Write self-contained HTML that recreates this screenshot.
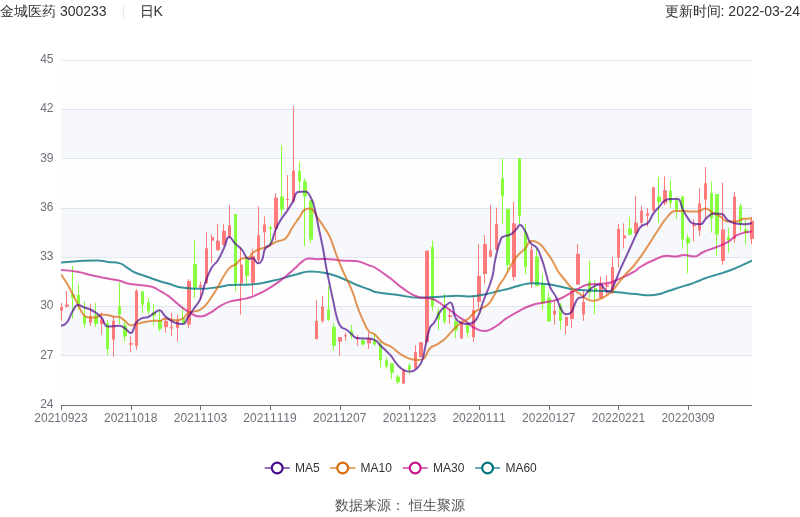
<!DOCTYPE html>
<html><head><meta charset="utf-8">
<style>
html,body{margin:0;padding:0;background:#fff;}
#wrap{position:absolute;left:0;top:0;width:800px;height:517px;will-change:transform;}
body{width:800px;height:517px;position:relative;overflow:hidden;font-family:"Liberation Sans",sans-serif;font-kerning:none;}
.ax{font-family:"Liberation Sans",sans-serif;font-size:12px;fill:#6E7079;font-kerning:none;}
.lg{font-family:"Liberation Sans",sans-serif;font-size:12px;fill:#333;font-kerning:none;}
#hdr{position:absolute;left:0;top:0;height:22px;width:800px;font-size:14px;color:#333;line-height:22px;}
#hl{position:absolute;left:0;top:0;white-space:nowrap;}
#sep{position:absolute;left:123px;top:5px;width:1px;height:13px;background:#e8e8e8;}
#k{position:absolute;left:139.6px;top:0;}
#hr{position:absolute;right:0;top:0;white-space:nowrap;}
#ft{position:absolute;left:0;width:800px;top:495px;text-align:center;font-size:14px;color:#555;line-height:20px;}
svg{position:absolute;left:0;top:0;}
</style></head><body>
<div id="wrap"><div id="hdr"><span id="hl">金城医药 300233</span><span id="sep"></span><span id="k">日K</span><span id="hr">更新时间: 2022-03-24</span></div>
<svg width="800" height="517" viewBox="0 0 800 517">
<defs><clipPath id="cp"><rect x="60" y="0" width="696" height="517"/></clipPath><clipPath id="cl"><rect x="61" y="0" width="691" height="517"/></clipPath></defs>
<rect x="61" y="355.71" width="691" height="49.29" fill="rgba(250,250,250,0.2)"/>
<rect x="61" y="306.43" width="691" height="49.29" fill="rgba(210,219,238,0.2)"/>
<rect x="61" y="257.14" width="691" height="49.29" fill="rgba(250,250,250,0.2)"/>
<rect x="61" y="207.86" width="691" height="49.29" fill="rgba(210,219,238,0.2)"/>
<rect x="61" y="158.57" width="691" height="49.29" fill="rgba(250,250,250,0.2)"/>
<rect x="61" y="109.29" width="691" height="49.29" fill="rgba(210,219,238,0.2)"/>
<rect x="61" y="60.00" width="691" height="49.29" fill="rgba(250,250,250,0.2)"/>
<line x1="61" y1="355.5" x2="752" y2="355.5" stroke="#E0E6F1" stroke-width="1"/>
<line x1="61" y1="306.5" x2="752" y2="306.5" stroke="#E0E6F1" stroke-width="1"/>
<line x1="61" y1="257.5" x2="752" y2="257.5" stroke="#E0E6F1" stroke-width="1"/>
<line x1="61" y1="208.5" x2="752" y2="208.5" stroke="#E0E6F1" stroke-width="1"/>
<line x1="61" y1="158.5" x2="752" y2="158.5" stroke="#E0E6F1" stroke-width="1"/>
<line x1="61" y1="109.5" x2="752" y2="109.5" stroke="#E0E6F1" stroke-width="1"/>
<line x1="61" y1="60.5" x2="752" y2="60.5" stroke="#E0E6F1" stroke-width="1"/>
<text x="53.5" y="404.0" text-anchor="end" dominant-baseline="central" class="ax">24</text>
<text x="53.5" y="354.7" text-anchor="end" dominant-baseline="central" class="ax">27</text>
<text x="53.5" y="305.4" text-anchor="end" dominant-baseline="central" class="ax">30</text>
<text x="53.5" y="256.1" text-anchor="end" dominant-baseline="central" class="ax">33</text>
<text x="53.5" y="206.9" text-anchor="end" dominant-baseline="central" class="ax">36</text>
<text x="53.5" y="157.6" text-anchor="end" dominant-baseline="central" class="ax">39</text>
<text x="53.5" y="108.3" text-anchor="end" dominant-baseline="central" class="ax">42</text>
<text x="53.5" y="59.0" text-anchor="end" dominant-baseline="central" class="ax">45</text>
<g clip-path="url(#cp)">
<rect x="61" y="302.8" width="1" height="17.9" fill="#ff7b7b"/>
<rect x="60.0" y="306.9" width="3.0" height="3.8" fill="#ff7b7b"/>
<rect x="66" y="290.8" width="1" height="17.0" fill="#ff7b7b"/>
<rect x="65.0" y="304.5" width="4.0" height="2.0" fill="#ff7b7b"/>
<rect x="72" y="266.0" width="1" height="52.9" fill="#88ff3e"/>
<rect x="71.0" y="294.6" width="4.0" height="3.2" fill="#88ff3e"/>
<rect x="78" y="283.7" width="1" height="25.8" fill="#88ff3e"/>
<rect x="77.0" y="295.0" width="3.0" height="9.0" fill="#88ff3e"/>
<rect x="84" y="301.3" width="1" height="26.4" fill="#88ff3e"/>
<rect x="83.0" y="316.4" width="3.0" height="7.5" fill="#88ff3e"/>
<rect x="90" y="303.8" width="1" height="22.0" fill="#ff7b7b"/>
<rect x="89.0" y="316.4" width="3.0" height="6.2" fill="#ff7b7b"/>
<rect x="95" y="303.1" width="1" height="23.9" fill="#88ff3e"/>
<rect x="94.0" y="315.1" width="4.0" height="8.8" fill="#88ff3e"/>
<rect x="101" y="312.6" width="1" height="22.0" fill="#ff7b7b"/>
<rect x="100.0" y="319.5" width="4.0" height="4.4" fill="#ff7b7b"/>
<rect x="107" y="320.0" width="1" height="35.3" fill="#88ff3e"/>
<rect x="106.0" y="323.3" width="3.0" height="25.7" fill="#88ff3e"/>
<rect x="113" y="316.4" width="1" height="40.2" fill="#ff7b7b"/>
<rect x="112.0" y="320.8" width="3.0" height="18.8" fill="#ff7b7b"/>
<rect x="119" y="282.4" width="1" height="41.5" fill="#88ff3e"/>
<rect x="118.0" y="306.3" width="3.0" height="8.3" fill="#88ff3e"/>
<rect x="124" y="318.9" width="1" height="22.6" fill="#88ff3e"/>
<rect x="123.0" y="325.2" width="4.0" height="11.3" fill="#88ff3e"/>
<rect x="130" y="335.8" width="1" height="16.4" fill="#ff7b7b"/>
<rect x="129.0" y="343.1" width="4.0" height="1.6" fill="#ff7b7b"/>
<rect x="136" y="289.0" width="1" height="60.7" fill="#ff7b7b"/>
<rect x="135.0" y="290.8" width="3.0" height="55.1" fill="#ff7b7b"/>
<rect x="142" y="290.8" width="1" height="22.4" fill="#88ff3e"/>
<rect x="141.0" y="291.5" width="3.0" height="13.1" fill="#88ff3e"/>
<rect x="148" y="297.8" width="1" height="17.2" fill="#88ff3e"/>
<rect x="147.0" y="302.2" width="3.0" height="9.1" fill="#88ff3e"/>
<rect x="153" y="304.0" width="1" height="21.8" fill="#88ff3e"/>
<rect x="152.0" y="312.6" width="4.0" height="3.1" fill="#88ff3e"/>
<rect x="159" y="310.2" width="1" height="21.4" fill="#88ff3e"/>
<rect x="158.0" y="320.3" width="4.0" height="8.8" fill="#88ff3e"/>
<rect x="165" y="317.7" width="1" height="15.1" fill="#ff7b7b"/>
<rect x="164.0" y="320.9" width="4.0" height="6.3" fill="#ff7b7b"/>
<rect x="171" y="312.7" width="1" height="23.3" fill="#ff7b7b"/>
<rect x="170.0" y="326.8" width="3.0" height="1.6" fill="#ff7b7b"/>
<rect x="177" y="314.6" width="1" height="27.0" fill="#ff7b7b"/>
<rect x="176.0" y="320.9" width="3.0" height="6.9" fill="#ff7b7b"/>
<rect x="182" y="306.4" width="1" height="17.6" fill="#88ff3e"/>
<rect x="182.0" y="318.4" width="3.0" height="5.0" fill="#88ff3e"/>
<rect x="188" y="279.1" width="1" height="48.7" fill="#ff7b7b"/>
<rect x="187.0" y="281.0" width="4.0" height="43.7" fill="#ff7b7b"/>
<rect x="194" y="240.7" width="1" height="57.5" fill="#88ff3e"/>
<rect x="193.0" y="264.0" width="4.0" height="23.5" fill="#88ff3e"/>
<rect x="200" y="281.6" width="1" height="18.5" fill="#ff7b7b"/>
<rect x="199.0" y="285.0" width="3.0" height="2.5" fill="#ff7b7b"/>
<rect x="206" y="231.9" width="1" height="52.1" fill="#ff7b7b"/>
<rect x="205.0" y="248.3" width="3.0" height="34.7" fill="#ff7b7b"/>
<rect x="211" y="234.4" width="1" height="28.3" fill="#ff7b7b"/>
<rect x="211.0" y="237.0" width="3.0" height="3.7" fill="#ff7b7b"/>
<rect x="217" y="224.0" width="1" height="26.6" fill="#ff7b7b"/>
<rect x="216.0" y="240.7" width="4.0" height="9.5" fill="#ff7b7b"/>
<rect x="223" y="224.0" width="1" height="21.8" fill="#ff7b7b"/>
<rect x="222.0" y="230.8" width="4.0" height="13.8" fill="#ff7b7b"/>
<rect x="229" y="205.1" width="1" height="32.4" fill="#ff7b7b"/>
<rect x="228.0" y="225.3" width="3.0" height="11.5" fill="#ff7b7b"/>
<rect x="235" y="213.9" width="1" height="77.4" fill="#88ff3e"/>
<rect x="234.0" y="214.0" width="3.0" height="69.5" fill="#88ff3e"/>
<rect x="240" y="247.6" width="1" height="67.0" fill="#ff7b7b"/>
<rect x="240.0" y="264.6" width="3.0" height="18.7" fill="#ff7b7b"/>
<rect x="246" y="256.4" width="1" height="27.6" fill="#88ff3e"/>
<rect x="245.0" y="258.6" width="4.0" height="17.4" fill="#88ff3e"/>
<rect x="252" y="248.8" width="1" height="45.9" fill="#ff7b7b"/>
<rect x="251.0" y="255.8" width="4.0" height="27.0" fill="#ff7b7b"/>
<rect x="258" y="206.4" width="1" height="55.6" fill="#ff7b7b"/>
<rect x="257.0" y="235.3" width="3.0" height="24.9" fill="#ff7b7b"/>
<rect x="264" y="216.4" width="1" height="31.2" fill="#ff7b7b"/>
<rect x="263.0" y="224.6" width="3.0" height="7.6" fill="#ff7b7b"/>
<rect x="270" y="225.9" width="1" height="18.1" fill="#88ff3e"/>
<rect x="269.0" y="227.1" width="3.0" height="1.9" fill="#88ff3e"/>
<rect x="275" y="193.2" width="1" height="47.1" fill="#ff7b7b"/>
<rect x="274.0" y="197.6" width="4.0" height="31.4" fill="#ff7b7b"/>
<rect x="281" y="145.3" width="1" height="70.1" fill="#88ff3e"/>
<rect x="280.0" y="196.5" width="4.0" height="13.2" fill="#88ff3e"/>
<rect x="287" y="175.1" width="1" height="34.0" fill="#ff7b7b"/>
<rect x="286.0" y="199.0" width="3.0" height="1.0" fill="#ff7b7b"/>
<rect x="293" y="106.0" width="1" height="96.5" fill="#ff7b7b"/>
<rect x="292.0" y="170.7" width="3.0" height="30.8" fill="#ff7b7b"/>
<rect x="299" y="162.3" width="1" height="29.2" fill="#88ff3e"/>
<rect x="298.0" y="170.7" width="3.0" height="10.7" fill="#88ff3e"/>
<rect x="304" y="178.3" width="1" height="68.0" fill="#88ff3e"/>
<rect x="303.0" y="181.4" width="4.0" height="15.1" fill="#88ff3e"/>
<rect x="310" y="200.0" width="1" height="42.8" fill="#88ff3e"/>
<rect x="309.0" y="200.3" width="4.0" height="39.3" fill="#88ff3e"/>
<rect x="316" y="300.1" width="1" height="39.6" fill="#ff7b7b"/>
<rect x="315.0" y="320.9" width="3.0" height="18.2" fill="#ff7b7b"/>
<rect x="322" y="296.4" width="1" height="26.4" fill="#ff7b7b"/>
<rect x="321.0" y="306.4" width="3.0" height="14.5" fill="#ff7b7b"/>
<rect x="328" y="286.3" width="1" height="34.6" fill="#88ff3e"/>
<rect x="327.0" y="309.6" width="3.0" height="10.0" fill="#88ff3e"/>
<rect x="333" y="323.1" width="1" height="27.7" fill="#88ff3e"/>
<rect x="332.0" y="326.9" width="4.0" height="18.9" fill="#88ff3e"/>
<rect x="339" y="337.0" width="1" height="18.8" fill="#ff7b7b"/>
<rect x="338.0" y="337.2" width="4.0" height="4.4" fill="#ff7b7b"/>
<rect x="345" y="332.6" width="1" height="8.2" fill="#ff7b7b"/>
<rect x="344.0" y="335.1" width="3.0" height="1.3" fill="#ff7b7b"/>
<rect x="351" y="325.0" width="1" height="13.9" fill="#88ff3e"/>
<rect x="350.0" y="330.7" width="3.0" height="5.0" fill="#88ff3e"/>
<rect x="357" y="335.1" width="1" height="10.7" fill="#ff7b7b"/>
<rect x="356.0" y="338.2" width="3.0" height="1.3" fill="#ff7b7b"/>
<rect x="362" y="338.9" width="1" height="6.9" fill="#88ff3e"/>
<rect x="361.0" y="340.1" width="4.0" height="4.4" fill="#88ff3e"/>
<rect x="368" y="332.6" width="1" height="16.3" fill="#ff7b7b"/>
<rect x="367.0" y="338.2" width="4.0" height="5.1" fill="#ff7b7b"/>
<rect x="374" y="333.2" width="1" height="12.6" fill="#88ff3e"/>
<rect x="373.0" y="340.1" width="3.0" height="4.4" fill="#88ff3e"/>
<rect x="380" y="340.8" width="1" height="27.0" fill="#88ff3e"/>
<rect x="379.0" y="344.5" width="3.0" height="15.8" fill="#88ff3e"/>
<rect x="386" y="357.1" width="1" height="11.3" fill="#88ff3e"/>
<rect x="385.0" y="360.3" width="3.0" height="6.2" fill="#88ff3e"/>
<rect x="391" y="362.8" width="1" height="16.3" fill="#88ff3e"/>
<rect x="390.0" y="363.4" width="4.0" height="9.4" fill="#88ff3e"/>
<rect x="397" y="374.7" width="1" height="9.5" fill="#88ff3e"/>
<rect x="396.0" y="376.6" width="4.0" height="5.7" fill="#88ff3e"/>
<rect x="403" y="369.1" width="1" height="15.1" fill="#ff7b7b"/>
<rect x="402.0" y="370.3" width="3.0" height="13.2" fill="#ff7b7b"/>
<rect x="409" y="362.8" width="1" height="11.9" fill="#88ff3e"/>
<rect x="408.0" y="365.3" width="3.0" height="4.4" fill="#88ff3e"/>
<rect x="415" y="345.2" width="1" height="23.4" fill="#ff7b7b"/>
<rect x="414.0" y="352.1" width="3.0" height="16.3" fill="#ff7b7b"/>
<rect x="420" y="342.0" width="1" height="15.7" fill="#ff7b7b"/>
<rect x="419.0" y="342.3" width="4.0" height="14.8" fill="#ff7b7b"/>
<rect x="426" y="250.7" width="1" height="92.3" fill="#ff7b7b"/>
<rect x="425.0" y="250.7" width="4.0" height="91.5" fill="#ff7b7b"/>
<rect x="432" y="240.7" width="1" height="70.1" fill="#88ff3e"/>
<rect x="431.0" y="247.0" width="3.0" height="60.0" fill="#88ff3e"/>
<rect x="438" y="308.2" width="1" height="22.1" fill="#88ff3e"/>
<rect x="437.0" y="311.4" width="3.0" height="8.2" fill="#88ff3e"/>
<rect x="444" y="293.5" width="1" height="30.5" fill="#88ff3e"/>
<rect x="443.0" y="308.2" width="3.0" height="13.2" fill="#88ff3e"/>
<rect x="449" y="308.9" width="1" height="15.1" fill="#ff7b7b"/>
<rect x="448.0" y="315.2" width="4.0" height="1.8" fill="#ff7b7b"/>
<rect x="455" y="318.9" width="1" height="19.5" fill="#88ff3e"/>
<rect x="454.0" y="321.4" width="4.0" height="8.9" fill="#88ff3e"/>
<rect x="461" y="320.8" width="1" height="18.3" fill="#ff7b7b"/>
<rect x="460.0" y="321.4" width="3.0" height="17.0" fill="#ff7b7b"/>
<rect x="467" y="321.4" width="1" height="15.8" fill="#88ff3e"/>
<rect x="466.0" y="324.6" width="3.0" height="8.2" fill="#88ff3e"/>
<rect x="473" y="295.0" width="1" height="47.2" fill="#ff7b7b"/>
<rect x="472.0" y="310.1" width="3.0" height="27.1" fill="#ff7b7b"/>
<rect x="478" y="243.8" width="1" height="63.8" fill="#ff7b7b"/>
<rect x="477.0" y="275.9" width="4.0" height="26.1" fill="#ff7b7b"/>
<rect x="484" y="235.0" width="1" height="48.9" fill="#ff7b7b"/>
<rect x="483.0" y="244.1" width="4.0" height="29.8" fill="#ff7b7b"/>
<rect x="490" y="205.1" width="1" height="52.1" fill="#ff7b7b"/>
<rect x="489.0" y="250.3" width="3.0" height="6.3" fill="#ff7b7b"/>
<rect x="496" y="207.6" width="1" height="42.9" fill="#ff7b7b"/>
<rect x="495.0" y="223.9" width="3.0" height="25.8" fill="#ff7b7b"/>
<rect x="502" y="158.6" width="1" height="65.3" fill="#88ff3e"/>
<rect x="501.0" y="178.4" width="3.0" height="17.6" fill="#88ff3e"/>
<rect x="507" y="208.2" width="1" height="63.8" fill="#88ff3e"/>
<rect x="506.0" y="209.0" width="4.0" height="56.0" fill="#88ff3e"/>
<rect x="513" y="201.9" width="1" height="78.9" fill="#ff7b7b"/>
<rect x="512.0" y="223.3" width="4.0" height="53.7" fill="#ff7b7b"/>
<rect x="519" y="158.2" width="1" height="66.4" fill="#88ff3e"/>
<rect x="518.0" y="158.2" width="3.0" height="57.6" fill="#88ff3e"/>
<rect x="525" y="223.9" width="1" height="50.6" fill="#88ff3e"/>
<rect x="524.0" y="231.5" width="3.0" height="35.5" fill="#88ff3e"/>
<rect x="531" y="245.3" width="1" height="42.4" fill="#ff7b7b"/>
<rect x="530.0" y="249.7" width="3.0" height="33.0" fill="#ff7b7b"/>
<rect x="536" y="247.8" width="1" height="38.6" fill="#88ff3e"/>
<rect x="535.0" y="256.6" width="4.0" height="29.2" fill="#88ff3e"/>
<rect x="542" y="273.9" width="1" height="35.8" fill="#88ff3e"/>
<rect x="541.0" y="283.9" width="4.0" height="19.5" fill="#88ff3e"/>
<rect x="548" y="292.7" width="1" height="28.9" fill="#88ff3e"/>
<rect x="547.0" y="297.8" width="4.0" height="23.6" fill="#88ff3e"/>
<rect x="554" y="301.3" width="1" height="23.3" fill="#ff7b7b"/>
<rect x="553.0" y="310.8" width="3.0" height="3.7" fill="#ff7b7b"/>
<rect x="560" y="303.2" width="1" height="26.4" fill="#88ff3e"/>
<rect x="559.0" y="305.1" width="3.0" height="15.7" fill="#88ff3e"/>
<rect x="565" y="316.4" width="1" height="17.6" fill="#ff7b7b"/>
<rect x="565.0" y="317.0" width="3.0" height="8.8" fill="#ff7b7b"/>
<rect x="571" y="290.3" width="1" height="37.4" fill="#ff7b7b"/>
<rect x="570.0" y="290.3" width="4.0" height="28.6" fill="#ff7b7b"/>
<rect x="577" y="244.1" width="1" height="40.7" fill="#ff7b7b"/>
<rect x="576.0" y="253.8" width="4.0" height="30.8" fill="#ff7b7b"/>
<rect x="583" y="290.9" width="1" height="29.9" fill="#ff7b7b"/>
<rect x="582.0" y="302.0" width="3.0" height="12.5" fill="#ff7b7b"/>
<rect x="589" y="260.7" width="1" height="37.8" fill="#88ff3e"/>
<rect x="588.0" y="281.5" width="3.0" height="11.5" fill="#88ff3e"/>
<rect x="594" y="280.2" width="1" height="34.3" fill="#88ff3e"/>
<rect x="594.0" y="287.8" width="3.0" height="3.7" fill="#88ff3e"/>
<rect x="600" y="276.4" width="1" height="22.1" fill="#ff7b7b"/>
<rect x="599.0" y="284.6" width="4.0" height="13.2" fill="#ff7b7b"/>
<rect x="606" y="275.2" width="1" height="19.5" fill="#ff7b7b"/>
<rect x="605.0" y="284.6" width="4.0" height="1.9" fill="#ff7b7b"/>
<rect x="612" y="257.0" width="1" height="37.0" fill="#ff7b7b"/>
<rect x="611.0" y="267.0" width="3.0" height="24.5" fill="#ff7b7b"/>
<rect x="618" y="224.0" width="1" height="43.6" fill="#ff7b7b"/>
<rect x="617.0" y="229.0" width="3.0" height="28.6" fill="#ff7b7b"/>
<rect x="623" y="223.4" width="1" height="25.1" fill="#ff7b7b"/>
<rect x="623.0" y="235.3" width="3.0" height="3.2" fill="#ff7b7b"/>
<rect x="629" y="217.1" width="1" height="18.2" fill="#88ff3e"/>
<rect x="628.0" y="228.4" width="4.0" height="6.3" fill="#88ff3e"/>
<rect x="635" y="195.7" width="1" height="39.6" fill="#ff7b7b"/>
<rect x="634.0" y="222.7" width="4.0" height="10.7" fill="#ff7b7b"/>
<rect x="641" y="205.8" width="1" height="19.5" fill="#ff7b7b"/>
<rect x="640.0" y="210.8" width="3.0" height="11.9" fill="#ff7b7b"/>
<rect x="647" y="208.3" width="1" height="18.2" fill="#ff7b7b"/>
<rect x="646.0" y="213.3" width="3.0" height="2.5" fill="#ff7b7b"/>
<rect x="653" y="186.9" width="1" height="24.5" fill="#ff7b7b"/>
<rect x="652.0" y="187.3" width="3.0" height="23.3" fill="#ff7b7b"/>
<rect x="658" y="177.0" width="1" height="45.9" fill="#88ff3e"/>
<rect x="657.0" y="196.5" width="4.0" height="5.6" fill="#88ff3e"/>
<rect x="664" y="176.4" width="1" height="28.9" fill="#ff7b7b"/>
<rect x="663.0" y="190.2" width="4.0" height="13.2" fill="#ff7b7b"/>
<rect x="670" y="180.1" width="1" height="27.7" fill="#88ff3e"/>
<rect x="669.0" y="190.8" width="3.0" height="12.0" fill="#88ff3e"/>
<rect x="676" y="196.5" width="1" height="22.6" fill="#88ff3e"/>
<rect x="675.0" y="200.3" width="3.0" height="9.4" fill="#88ff3e"/>
<rect x="682" y="195.8" width="1" height="52.6" fill="#88ff3e"/>
<rect x="681.0" y="196.5" width="3.0" height="43.1" fill="#88ff3e"/>
<rect x="687" y="234.5" width="1" height="39.0" fill="#88ff3e"/>
<rect x="686.0" y="237.7" width="4.0" height="5.6" fill="#88ff3e"/>
<rect x="693" y="219.4" width="1" height="22.0" fill="#ff7b7b"/>
<rect x="692.0" y="225.1" width="4.0" height="1.3" fill="#ff7b7b"/>
<rect x="699" y="188.3" width="1" height="47.5" fill="#ff7b7b"/>
<rect x="698.0" y="203.4" width="3.0" height="27.4" fill="#ff7b7b"/>
<rect x="705" y="166.9" width="1" height="51.0" fill="#ff7b7b"/>
<rect x="704.0" y="183.3" width="3.0" height="16.3" fill="#ff7b7b"/>
<rect x="711" y="181.4" width="1" height="51.2" fill="#88ff3e"/>
<rect x="710.0" y="193.3" width="3.0" height="25.2" fill="#88ff3e"/>
<rect x="716" y="194.0" width="1" height="61.9" fill="#88ff3e"/>
<rect x="715.0" y="194.0" width="4.0" height="40.5" fill="#88ff3e"/>
<rect x="722" y="182.6" width="1" height="82.1" fill="#ff7b7b"/>
<rect x="721.0" y="229.5" width="4.0" height="31.4" fill="#ff7b7b"/>
<rect x="728" y="227.6" width="1" height="25.2" fill="#88ff3e"/>
<rect x="727.0" y="237.0" width="3.0" height="3.2" fill="#88ff3e"/>
<rect x="734" y="192.1" width="1" height="50.6" fill="#ff7b7b"/>
<rect x="733.0" y="196.5" width="3.0" height="42.4" fill="#ff7b7b"/>
<rect x="740" y="203.4" width="1" height="27.4" fill="#88ff3e"/>
<rect x="739.0" y="205.9" width="3.0" height="17.9" fill="#88ff3e"/>
<rect x="745" y="219.7" width="1" height="24.9" fill="#88ff3e"/>
<rect x="744.0" y="229.5" width="4.0" height="3.8" fill="#88ff3e"/>
<rect x="751" y="216.9" width="1" height="27.1" fill="#ff7b7b"/>
<rect x="750.0" y="220.7" width="4.0" height="18.2" fill="#ff7b7b"/>
</g>
<g clip-path="url(#cl)">
<path d="M61.00,262.60 C61.00,262.60 70.49,261.58 80.00,261.00 C88.64,260.48 88.68,260.40 97.30,260.40 C102.58,260.40 102.54,261.20 107.80,261.90 C113.84,262.70 114.19,261.90 119.90,263.40 C124.04,264.49 123.72,265.62 127.50,267.90 C131.27,270.17 131.02,270.68 135.00,272.50 C140.07,274.83 140.30,274.34 145.60,276.20 C153.15,278.84 153.10,279.02 160.70,281.50 C164.75,282.82 164.81,282.61 168.90,283.80 C175.16,285.61 175.00,286.61 181.40,287.50 C190.70,288.80 190.86,288.80 200.30,288.80 C209.76,288.80 209.78,288.09 219.20,286.90 C224.88,286.19 224.80,285.29 230.50,285.00 C240.20,284.50 240.32,285.00 250.00,284.50 C261.37,283.91 261.42,283.22 272.60,280.80 C284.07,278.32 283.90,277.54 295.30,274.70 C302.80,272.84 302.78,271.40 310.40,271.40 C317.88,271.40 318.11,271.40 325.50,272.90 C333.21,274.47 333.22,274.86 340.60,277.70 C348.32,280.66 348.05,281.35 355.70,284.50 C362.75,287.40 362.90,287.03 370.00,289.80 C372.65,290.83 372.42,291.59 375.20,292.10 C385.72,294.04 385.91,293.32 396.60,294.70 C407.91,296.17 407.86,297.80 419.20,297.80 C429.56,297.80 429.60,297.38 440.00,296.80 C448.30,296.33 448.30,295.70 456.60,295.70 C462.25,295.70 462.26,296.50 467.90,296.50 C474.86,296.50 474.93,296.22 481.80,295.00 C490.98,293.37 490.90,292.91 500.00,290.80 C503.85,289.91 503.89,290.05 507.70,289.00 C514.04,287.25 513.90,286.65 520.30,285.20 C526.50,283.80 526.57,283.30 532.90,283.30 C539.17,283.30 539.25,283.30 545.50,283.90 C552.80,284.60 552.76,285.21 560.00,286.60 C567.56,288.06 567.48,288.79 575.10,289.60 C582.58,290.40 582.65,290.02 590.20,290.40 C597.75,290.77 597.76,290.55 605.30,291.10 C612.86,291.65 612.85,291.85 620.40,292.60 C627.95,293.35 627.94,293.45 635.50,294.10 C643.04,294.75 643.06,295.20 650.60,295.20 C655.11,295.20 655.16,294.91 659.60,294.10 C661.16,293.81 661.09,293.52 662.60,293.00 C666.29,291.72 666.29,291.71 670.00,290.50 C677.64,288.01 677.63,287.98 685.30,285.60 C687.63,284.88 687.71,285.12 690.00,284.30 C695.26,282.42 695.21,282.26 700.40,280.20 C702.76,279.26 702.70,279.12 705.10,278.30 C710.25,276.52 710.29,276.61 715.50,275.00 C717.74,274.31 717.76,274.39 720.00,273.70 C723.76,272.54 723.82,272.69 727.50,271.30 C733.62,268.99 733.60,268.91 739.60,266.30 C745.80,263.61 751.90,260.70 751.90,260.70" fill="none" stroke="#00737d" stroke-opacity="0.78" stroke-width="2" stroke-linejoin="round" stroke-linecap="round"/>
<path d="M61.00,269.90 C61.00,269.90 69.40,270.25 77.60,271.70 C85.25,273.05 85.11,273.79 92.70,275.50 C100.21,277.19 100.24,277.03 107.80,278.50 C113.84,279.68 113.94,279.31 119.90,280.80 C124.54,281.96 124.34,282.80 129.00,283.80 C134.14,284.90 134.26,284.30 139.50,285.00 C145.56,285.80 145.81,285.08 151.60,286.80 C156.41,288.23 156.27,288.84 160.70,291.30 C164.92,293.64 165.03,293.53 168.90,296.40 C173.53,299.83 173.15,300.34 177.70,303.90 C183.20,308.19 182.95,308.73 189.00,312.10 C194.25,315.03 194.64,316.50 200.30,316.50 C205.34,316.50 205.67,315.22 210.40,312.70 C215.72,309.87 215.13,308.76 220.40,305.80 C225.18,303.11 225.27,303.03 230.50,301.40 C235.37,299.88 235.57,300.53 240.60,299.50 C245.32,298.53 245.50,299.04 250.00,297.40 C257.75,294.59 257.86,294.58 265.10,290.60 C272.96,286.28 273.02,286.20 280.20,280.80 C288.12,274.85 287.82,274.42 295.30,267.90 C299.12,264.57 298.70,263.96 302.80,261.10 C305.50,259.21 305.71,258.40 308.90,258.40 C312.51,258.40 312.64,259.30 316.40,259.30 C320.94,259.30 320.96,258.90 325.50,258.90 C333.06,258.90 333.04,259.85 340.60,260.40 C348.14,260.95 348.33,260.40 355.70,261.10 C363.03,261.80 362.85,263.40 370.00,265.70 C372.00,266.35 372.22,265.90 374.00,267.00 C382.37,272.20 382.33,272.40 390.30,278.30 C396.78,283.10 396.17,284.00 402.90,288.40 C410.62,293.45 410.66,295.32 419.20,297.20 C424.21,298.30 424.99,297.20 430.00,298.30 C437.94,300.05 437.85,301.99 445.10,306.60 C451.15,310.44 450.77,311.01 456.60,315.20 C461.57,318.76 461.69,318.60 466.70,322.10 C471.14,325.20 470.71,326.07 475.50,328.40 C479.86,330.52 480.26,331.00 485.00,331.00 C487.81,331.00 488.00,330.60 490.60,329.30 C495.50,326.85 495.48,326.64 500.00,323.50 C502.18,321.99 501.78,321.44 504.00,320.00 C511.93,314.84 511.93,314.73 520.30,310.30 C526.38,307.08 526.38,306.80 532.90,304.70 C538.98,302.75 539.23,303.59 545.50,302.20 C552.78,300.59 553.13,301.44 560.00,298.70 C567.93,295.54 567.34,294.10 575.10,290.40 C582.44,286.90 582.37,285.05 590.20,284.30 C597.47,283.60 597.97,284.30 605.30,283.60 C613.07,282.86 613.05,281.42 620.40,278.30 C628.15,275.02 628.22,274.96 635.50,270.80 C638.02,269.36 637.49,268.55 640.00,267.10 C647.29,262.90 647.32,262.73 655.10,259.50 C660.92,257.08 661.04,255.80 667.20,255.80 C671.59,255.80 671.73,256.50 676.20,256.50 C680.03,256.50 679.98,255.00 683.80,255.00 C689.03,255.00 689.29,256.50 694.30,256.50 C699.09,256.50 698.73,253.98 703.40,252.00 C709.33,249.48 709.52,249.93 715.50,247.50 C721.57,245.03 721.83,245.43 727.50,242.20 C733.13,238.98 732.24,237.14 738.10,234.60 C744.44,231.84 751.90,231.60 751.90,231.60" fill="none" stroke="#c8148c" stroke-opacity="0.70" stroke-width="2" stroke-linejoin="round" stroke-linecap="round"/>
<path d="M61.00,274.50 C61.00,274.50 64.11,278.78 66.80,283.30 C69.91,288.53 69.76,288.62 72.60,294.00 C75.56,299.62 75.39,299.71 78.40,305.30 C81.19,310.46 80.40,311.51 84.20,315.50 C86.20,317.60 87.01,317.60 90.00,317.60 C92.76,317.60 93.03,317.60 95.70,317.60 C98.78,317.60 98.42,314.50 101.50,314.50 C104.37,314.50 104.59,314.52 107.60,315.00 C110.49,315.47 110.42,315.90 113.30,316.40 C116.17,316.90 116.45,316.40 119.10,317.00 C122.25,317.71 122.07,318.80 124.90,320.80 C127.87,322.90 127.51,325.20 130.70,325.20 C133.31,325.20 133.60,324.55 136.50,323.90 C139.40,323.25 139.39,323.23 142.30,322.60 C145.19,321.98 145.18,321.85 148.10,321.40 C150.98,320.95 150.99,320.80 153.90,320.80 C156.64,320.80 156.76,320.90 159.40,320.90 C162.56,320.90 162.36,318.40 165.50,318.40 C168.36,318.40 168.43,319.13 171.40,319.60 C174.38,320.08 174.47,320.30 177.40,320.30 C180.27,320.30 180.58,319.98 183.00,318.40 C186.38,316.18 185.58,314.60 189.00,312.70 C191.33,311.40 191.78,312.15 194.50,311.40 C197.43,310.60 197.74,311.11 200.30,309.60 C203.59,307.66 203.63,307.40 206.20,304.50 C209.48,300.80 209.23,300.54 212.00,296.40 C215.08,291.79 215.12,291.80 217.90,287.00 C221.22,281.25 220.66,280.90 224.20,275.30 C226.96,270.95 226.83,270.57 230.50,267.10 C232.48,265.22 233.28,266.25 235.50,264.60 C238.93,262.05 238.12,260.35 241.80,258.70 C245.37,257.10 246.86,258.70 250.00,257.10 C251.30,256.44 250.05,254.98 251.30,253.90 C254.45,251.18 254.84,251.24 258.80,249.50 C263.14,247.59 263.56,248.51 267.90,246.60 C271.86,244.86 271.50,244.07 275.40,242.20 C277.65,241.12 277.84,241.56 280.20,240.70 C282.89,239.71 283.65,240.55 285.50,238.50 C290.05,233.45 289.09,232.39 293.00,226.50 C295.99,221.99 296.18,222.12 299.30,217.70 C302.18,213.62 301.43,211.35 305.00,209.50 C306.93,208.50 307.90,208.50 310.30,208.50 C312.30,208.50 312.42,209.58 313.80,211.30 C316.07,214.13 315.60,214.51 317.60,217.60 C321.30,223.31 321.59,223.13 325.20,228.90 C327.89,233.18 328.17,233.09 330.20,237.70 C333.17,244.44 332.64,244.67 335.20,251.60 C337.69,258.32 337.56,258.38 340.30,265.00 C342.46,270.23 342.66,270.14 345.00,275.30 C348.91,283.94 349.32,283.79 352.80,292.60 C355.72,299.99 355.01,300.26 357.80,307.70 C360.66,315.36 360.59,315.43 364.10,322.80 C366.29,327.38 365.94,327.95 369.20,331.60 C370.99,333.60 372.05,332.36 374.20,334.10 C378.85,337.86 378.00,339.04 382.80,342.60 C386.70,345.49 387.49,344.34 391.60,347.00 C396.29,350.04 395.68,351.00 400.40,354.00 C405.13,357.00 405.23,357.51 410.50,359.00 C414.03,360.00 414.27,360.00 418.00,360.00 C420.57,360.00 421.36,360.00 423.10,359.00 C427.36,356.55 425.68,352.71 430.00,348.30 C432.98,345.26 434.03,346.48 437.70,344.10 C441.68,341.53 441.81,341.59 445.30,338.40 C449.36,334.69 448.90,334.20 452.80,330.30 C456.45,326.65 456.30,326.40 460.40,323.30 C463.85,320.70 464.51,321.57 467.90,318.90 C472.06,315.62 471.32,314.62 475.50,311.40 C478.27,309.27 478.71,309.91 481.80,308.20 C484.96,306.46 485.58,307.06 488.00,304.50 C491.83,300.46 491.41,299.91 494.30,295.00 C497.41,289.71 496.91,289.41 500.00,284.10 C501.86,280.91 502.28,281.16 504.20,278.00 C510.38,267.81 509.34,267.03 516.20,257.40 C519.89,252.23 520.96,253.09 525.30,248.40 C528.51,244.94 527.65,241.10 531.30,241.10 C533.70,241.10 534.89,241.10 537.40,242.30 C541.69,244.35 541.64,245.65 544.90,249.80 C549.94,256.20 549.75,256.43 554.00,263.40 C555.90,266.53 555.25,266.91 557.20,270.00 C559.85,274.21 560.05,274.12 563.20,278.00 C567.60,283.42 567.26,283.85 572.30,288.60 C575.81,291.90 576.36,291.26 580.30,294.10 C583.36,296.31 583.03,296.92 586.30,298.70 C589.08,300.22 589.29,300.70 592.40,300.70 C595.34,300.70 595.64,300.70 598.40,299.70 C604.44,297.51 604.42,296.70 610.00,293.10 C611.62,292.05 611.57,291.90 612.80,290.40 C618.27,283.75 617.82,283.36 623.40,276.80 C628.42,270.91 629.09,271.48 634.00,265.50 C639.64,258.63 639.50,258.47 644.50,251.10 C651.55,240.72 651.12,240.43 658.10,230.00 C662.67,223.18 662.17,222.63 667.60,216.60 C670.72,213.13 670.99,211.00 675.20,211.00 C678.54,211.00 678.95,211.00 682.70,211.00 C687.10,211.00 687.10,211.60 691.50,211.60 C694.65,211.60 694.79,211.60 697.80,211.60 C701.69,211.60 701.66,208.40 705.30,208.40 C709.21,208.40 709.04,210.71 712.90,212.80 C716.59,214.81 716.77,214.49 720.40,216.60 C724.32,218.89 723.86,221.60 728.00,221.60 C731.41,221.60 731.85,221.60 735.50,221.60 C739.40,221.60 739.21,219.79 743.10,219.10 C746.46,218.50 746.56,218.50 750.00,218.50 C750.96,218.50 751.90,218.80 751.90,218.80" fill="none" stroke="#d96a0c" stroke-opacity="0.70" stroke-width="2" stroke-linejoin="round" stroke-linecap="round"/>
<path d="M61.00,325.80 C61.00,325.80 64.81,325.09 66.80,322.60 C70.61,317.84 69.19,316.61 72.60,311.30 C74.84,307.81 74.84,305.00 78.10,305.00 C80.74,305.00 81.22,306.33 84.40,307.50 C87.17,308.53 87.32,308.19 90.00,309.40 C92.97,310.74 93.05,310.71 95.70,312.60 C98.80,314.81 99.02,314.72 101.50,317.60 C104.97,321.62 103.75,326.40 107.60,326.40 C109.65,326.40 110.45,326.35 113.30,326.20 C116.20,326.05 116.32,325.80 119.10,325.80 C122.12,325.80 122.24,326.65 124.90,328.30 C128.04,330.25 128.52,333.00 130.70,333.00 C134.32,333.00 132.78,326.75 136.50,322.00 C138.58,319.35 139.17,319.55 142.30,318.20 C144.97,317.05 145.43,318.15 148.10,317.00 C151.23,315.65 150.98,315.06 153.90,313.20 C155.93,311.91 155.90,311.85 158.00,310.70 C158.65,310.35 158.86,310.20 159.40,310.20 C162.61,310.20 162.24,313.59 165.50,316.50 C168.24,318.94 168.24,319.07 171.40,320.90 C174.19,322.52 174.29,322.71 177.40,323.40 C180.09,324.00 180.85,324.00 183.00,324.00 C186.00,324.00 185.43,320.91 187.70,317.70 C191.18,312.76 191.13,312.72 194.50,307.70 C197.43,303.32 198.24,303.70 200.30,298.90 C203.64,291.10 202.38,290.55 205.30,282.50 C208.03,275.00 207.70,274.69 211.60,267.80 C214.00,263.54 215.30,264.36 217.90,260.20 C221.60,254.26 221.12,253.93 224.20,247.60 C226.77,242.33 226.06,237.00 229.20,237.00 C231.71,237.00 232.19,240.62 235.50,243.90 C238.19,246.57 238.64,246.12 241.20,248.90 C245.59,253.67 244.86,259.00 249.40,259.00 C250.51,259.00 251.18,258.30 252.50,258.30 C255.73,258.30 255.53,263.30 258.50,263.30 C260.28,263.30 261.06,262.26 262.00,260.20 C264.36,255.01 262.47,253.83 265.10,248.80 C266.67,245.78 268.31,246.85 270.40,244.10 C272.11,241.85 271.72,241.51 272.70,238.80 C274.22,234.61 273.68,234.40 275.40,230.30 C277.58,225.10 277.59,225.03 280.50,220.20 C283.29,215.58 283.81,215.90 286.80,211.40 C290.06,206.50 290.05,206.49 293.00,201.40 C295.70,196.74 294.44,192.52 298.10,191.90 C300.44,191.50 302.25,191.50 305.00,191.50 C308.95,191.50 309.15,194.74 311.50,199.00 C314.00,203.54 313.43,203.96 314.70,209.10 C317.13,218.91 316.81,219.00 318.90,228.90 C320.76,237.70 320.91,237.67 322.60,246.50 C324.36,255.72 324.14,255.76 325.80,265.00 C326.84,270.76 326.82,270.77 328.00,276.50 C330.42,288.27 330.40,288.27 333.00,300.00 C335.25,310.17 334.62,310.43 337.70,320.30 C338.87,324.03 338.93,324.45 341.50,327.20 C343.33,329.15 344.22,328.13 346.50,329.70 C349.22,331.58 348.94,331.97 351.50,334.10 C353.99,336.17 353.71,337.69 356.60,338.10 C359.41,338.50 359.75,338.50 362.90,338.50 C366.05,338.50 366.12,338.50 369.20,338.50 C372.37,338.50 372.70,338.77 375.40,340.40 C378.25,342.12 377.86,342.79 380.30,345.20 C385.36,350.19 385.73,349.87 390.40,355.20 C394.53,359.92 393.69,360.69 397.90,365.30 C400.59,368.24 400.70,368.67 404.20,370.30 C407.00,371.60 407.50,371.60 410.50,371.60 C413.80,371.60 414.24,370.69 416.80,368.40 C419.89,365.64 420.32,365.41 421.80,361.50 C424.72,353.81 423.64,353.34 425.60,345.20 C427.74,336.34 426.87,335.88 430.00,327.50 C431.07,324.63 432.32,325.32 434.00,322.70 C437.47,317.27 436.59,316.63 440.30,311.40 C442.84,307.83 443.20,308.01 446.50,305.10 C448.20,303.61 448.73,302.60 450.30,302.60 C451.88,302.60 452.09,304.27 452.80,306.40 C454.59,311.82 452.95,312.66 455.30,317.70 C456.75,320.81 457.40,321.26 460.40,322.70 C463.10,324.00 463.53,324.00 466.70,324.00 C469.18,324.00 469.72,324.00 471.70,323.30 C475.37,322.00 475.85,320.45 478.00,316.40 C481.50,309.80 480.39,309.16 483.00,302.00 C487.39,289.96 488.44,290.26 492.00,278.00 C494.49,269.46 493.10,269.10 495.10,260.40 C497.65,249.35 497.00,248.62 501.10,238.50 C501.90,236.52 502.87,237.05 504.90,236.20 C507.42,235.15 507.90,236.09 510.20,234.70 C513.55,232.69 513.38,232.22 516.20,229.40 C518.28,227.32 518.13,224.90 520.00,224.90 C522.68,224.90 523.19,227.87 525.30,231.50 C528.39,236.82 526.94,237.86 530.40,242.80 C532.64,246.01 534.48,244.58 536.70,247.80 C540.13,252.78 539.50,253.39 541.70,259.20 C543.70,264.49 543.47,264.58 545.10,270.00 C547.67,278.53 546.76,278.92 550.10,287.10 C552.31,292.52 553.56,291.94 556.20,297.20 C559.11,302.99 557.97,303.68 561.20,309.20 C562.97,312.23 563.35,314.30 566.20,314.30 C568.35,314.30 569.54,314.17 571.20,312.30 C573.59,309.62 572.56,308.65 574.30,305.20 C576.11,301.60 575.57,300.52 578.30,298.20 C580.07,296.70 581.24,298.15 583.30,296.70 C586.29,294.60 585.67,293.71 588.40,291.10 C591.22,288.41 591.05,287.91 594.40,286.10 C597.05,284.66 597.79,284.60 600.40,284.60 C602.79,284.60 602.39,286.61 604.40,288.60 C605.94,290.11 605.79,291.60 607.50,291.60 C608.14,291.60 608.35,291.60 609.10,291.50 C610.25,291.35 610.76,291.47 611.30,290.40 C616.41,280.32 615.72,279.74 620.40,269.20 C624.77,259.34 624.88,259.39 629.40,249.60 C633.93,239.79 633.51,239.53 638.50,230.00 C639.71,227.68 639.75,227.46 641.80,225.90 C644.55,223.81 645.78,225.17 648.10,222.70 C651.43,219.17 650.20,218.02 653.10,213.90 C656.15,209.57 656.48,209.79 660.00,205.80 C662.48,202.99 662.03,201.82 665.10,200.30 C667.73,199.00 668.22,199.00 671.40,199.00 C674.52,199.00 675.67,199.00 677.70,199.00 C681.32,199.00 680.07,204.12 682.70,209.10 C685.07,213.57 684.81,213.78 687.70,217.90 C689.86,220.98 689.64,222.80 692.80,223.50 C695.94,224.20 697.14,224.20 700.30,224.20 C704.04,224.20 703.10,220.59 706.60,217.90 C710.05,215.24 710.13,213.50 714.20,213.50 C717.68,213.50 718.54,213.50 721.70,214.10 C725.44,214.81 724.39,217.94 728.00,220.40 C731.29,222.64 731.60,222.86 735.50,223.50 C739.75,224.20 739.91,224.20 744.30,224.20 C748.11,224.20 751.90,223.20 751.90,223.20" fill="none" stroke="#4b0c8c" stroke-opacity="0.70" stroke-width="2" stroke-linejoin="round" stroke-linecap="round"/>
</g>
<line x1="61" y1="405.5" x2="752" y2="405.5" stroke="#6E7079" stroke-width="1"/>
<line x1="61.5" y1="405" x2="61.5" y2="410" stroke="#6E7079" stroke-width="1"/>
<text x="61.0" y="422" text-anchor="middle" class="ax">20210923</text>
<line x1="131.5" y1="405" x2="131.5" y2="410" stroke="#6E7079" stroke-width="1"/>
<text x="130.7" y="422" text-anchor="middle" class="ax">20211018</text>
<line x1="200.5" y1="405" x2="200.5" y2="410" stroke="#6E7079" stroke-width="1"/>
<text x="200.4" y="422" text-anchor="middle" class="ax">20211103</text>
<line x1="270.5" y1="405" x2="270.5" y2="410" stroke="#6E7079" stroke-width="1"/>
<text x="270.0" y="422" text-anchor="middle" class="ax">20211119</text>
<line x1="340.5" y1="405" x2="340.5" y2="410" stroke="#6E7079" stroke-width="1"/>
<text x="339.7" y="422" text-anchor="middle" class="ax">20211207</text>
<line x1="409.5" y1="405" x2="409.5" y2="410" stroke="#6E7079" stroke-width="1"/>
<text x="409.4" y="422" text-anchor="middle" class="ax">20211223</text>
<line x1="479.5" y1="405" x2="479.5" y2="410" stroke="#6E7079" stroke-width="1"/>
<text x="479.1" y="422" text-anchor="middle" class="ax">20220111</text>
<line x1="549.5" y1="405" x2="549.5" y2="410" stroke="#6E7079" stroke-width="1"/>
<text x="548.8" y="422" text-anchor="middle" class="ax">20220127</text>
<line x1="618.5" y1="405" x2="618.5" y2="410" stroke="#6E7079" stroke-width="1"/>
<text x="618.4" y="422" text-anchor="middle" class="ax">20220221</text>
<line x1="688.5" y1="405" x2="688.5" y2="410" stroke="#6E7079" stroke-width="1"/>
<text x="688.1" y="422" text-anchor="middle" class="ax">20220309</text>
<line x1="264.7" y1="468" x2="289.7" y2="468" stroke="#4b0c8c" stroke-width="2" stroke-opacity="0.6"/>
<circle cx="277.2" cy="468" r="5.4" fill="#fff" stroke="#4b0c8c" stroke-width="2.2"/>
<text x="295.0" y="471.6" class="lg">MA5</text>
<line x1="330.2" y1="468" x2="355.2" y2="468" stroke="#d96a0c" stroke-width="2" stroke-opacity="0.6"/>
<circle cx="342.7" cy="468" r="5.4" fill="#fff" stroke="#d96a0c" stroke-width="2.2"/>
<text x="360.5" y="471.6" class="lg">MA10</text>
<line x1="402.7" y1="468" x2="427.7" y2="468" stroke="#c8148c" stroke-width="2" stroke-opacity="0.6"/>
<circle cx="415.2" cy="468" r="5.4" fill="#fff" stroke="#c8148c" stroke-width="2.2"/>
<text x="433.0" y="471.6" class="lg">MA30</text>
<line x1="475.1" y1="468" x2="500.1" y2="468" stroke="#00737d" stroke-width="2" stroke-opacity="0.6"/>
<circle cx="487.6" cy="468" r="5.4" fill="#fff" stroke="#00737d" stroke-width="2.2"/>
<text x="505.4" y="471.6" class="lg">MA60</text>
</svg>
<div id="ft">数据来源：&nbsp;恒生聚源</div>
</div></body></html>
